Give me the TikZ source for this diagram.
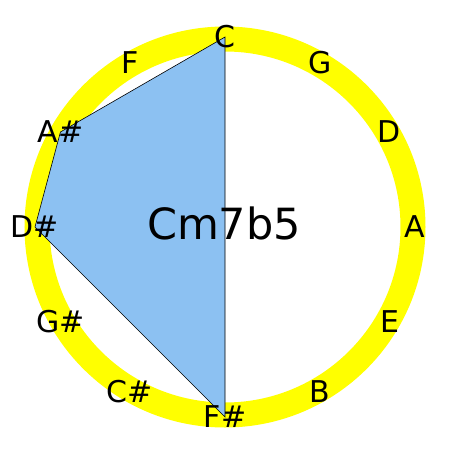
\documentclass[tikz,border=0pt]{standalone}
\usepackage{fontspec}
\setmainfont{DejaVu Sans}
\usetikzlibrary{calc}
\definecolor{ringyellow}{RGB}{255,255,0}
\definecolor{chordblue}{RGB}{140,193,242}
\begin{document}
\begin{tikzpicture}[x=1pt,y=-1pt,
  note/.style={inner sep=0pt,font=\fontsize{30}{30}\selectfont},
  chordname/.style={inner sep=0pt,font=\fontsize{43}{43}\selectfont},
  ring/.style={draw=ringyellow,line width=25pt},
  chord/.style={fill=chordblue,draw=black,line width=0.6pt,line join=miter}]
\useasboundingbox (0,0) rectangle (450,450);
\coordinate (O) at (225,227);
\draw[ring] (O) circle[radius=188];
% note positions
\foreach \n [count=\i from 0] in {C,G,D,A,E,B,Fs,Cs,Gs,Ds,As,F}{
  \coordinate (p\n) at ($(O)+({cos(90-30*\i)*190},{-sin(90-30*\i)*190})$);
}
\filldraw[chord] (pC) -- (pAs) -- (pDs) -- (pFs) -- cycle;
\foreach \n/\lab in {C/C,G/G,D/D,A/A,E/E,B/B,Fs/F\#,Cs/C\#,Gs/G\#,Ds/D\#,As/A\#,F/F}{
  \node[note] (n\n) at (p\n) {\lab};
}
\node[chordname] (name) at (224,223) {Cm7b5};
\end{tikzpicture}
\end{document}
